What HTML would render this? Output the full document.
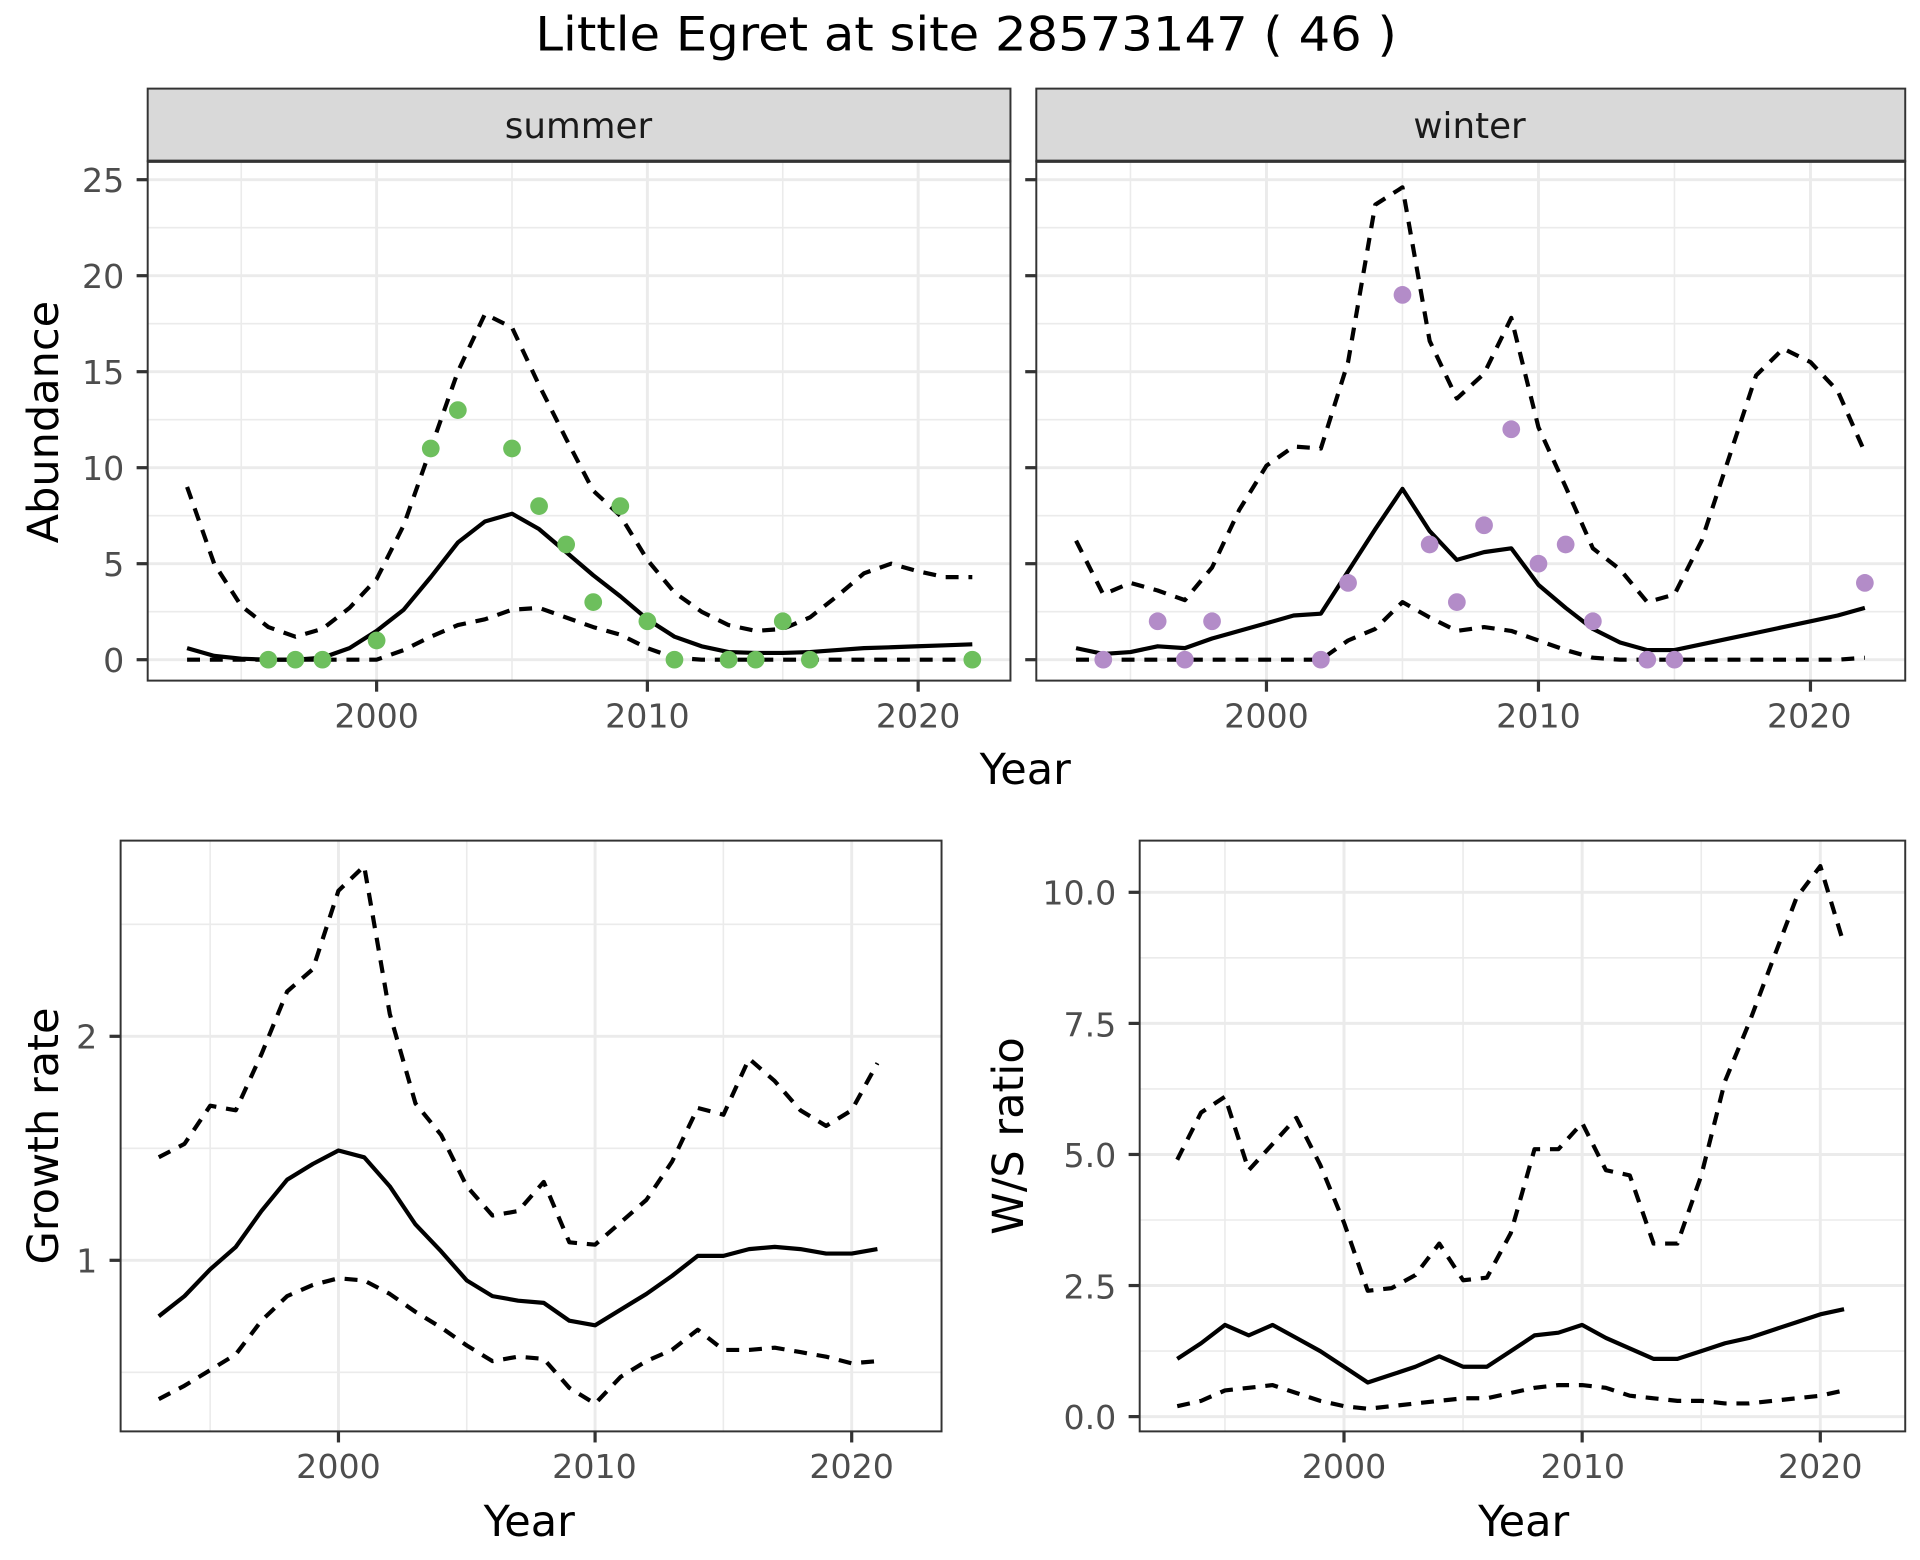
<!DOCTYPE html>
<html><head><meta charset="utf-8"><style>html,body{margin:0;padding:0;background:#fff}svg{display:block}text{font-family:"DejaVu Sans","Liberation Sans",sans-serif}</style></head>
<body>
<svg id="s" width="1920" height="1560" viewBox="0 0 1560 1267.5" xmlns="http://www.w3.org/2000/svg">
<rect width="1560" height="1267.5" fill="#fff"/>
<g id="grid"></g>
<g id="lines"></g>
<g font-size="27" fill="#4d4d4d">
<text x="101" y="546" text-anchor="end">0</text>
<text x="101" y="468" text-anchor="end">5</text>
<text x="101" y="390" text-anchor="end">10</text>
<text x="101" y="312" text-anchor="end">15</text>
<text x="101" y="234" text-anchor="end">20</text>
<text x="101" y="156" text-anchor="end">25</text>
<text x="306" y="591" text-anchor="middle">2000</text>
<text x="526" y="591" text-anchor="middle">2010</text>
<text x="746" y="591" text-anchor="middle">2020</text>
<text x="1029" y="591" text-anchor="middle">2000</text>
<text x="1250" y="591" text-anchor="middle">2010</text>
<text x="1470" y="591" text-anchor="middle">2020</text>
<text x="79" y="1034" text-anchor="end">1</text>
<text x="79" y="852" text-anchor="end">2</text>
<text x="275" y="1201" text-anchor="middle">2000</text>
<text x="483" y="1201" text-anchor="middle">2010</text>
<text x="692" y="1201" text-anchor="middle">2020</text>
<text x="907" y="1161" text-anchor="end">0.0</text>
<text x="907" y="1055" text-anchor="end">2.5</text>
<text x="907" y="948" text-anchor="end">5.0</text>
<text x="907" y="842" text-anchor="end">7.5</text>
<text x="907" y="735" text-anchor="end">10.0</text>
<text x="1092" y="1201" text-anchor="middle">2000</text>
<text x="1286" y="1201" text-anchor="middle">2010</text>
<text x="1479" y="1201" text-anchor="middle">2020</text>
</g>
<g font-size="29" fill="#1a1a1a">
<text x="470" y="112" text-anchor="middle">summer</text>
<text x="1194" y="112" text-anchor="middle">winter</text>
</g>
<g font-size="35" fill="#000">
<text x="785" y="41" text-anchor="middle" font-size="38" textLength="700" lengthAdjust="spacingAndGlyphs">Little Egret at site 28573147 ( 46 )</text>
<text x="833" y="637" text-anchor="middle">Year</text>
<text x="430" y="1248" text-anchor="middle">Year</text>
<text x="1238" y="1248" text-anchor="middle">Year</text>
<text transform="translate(47,343) rotate(-90)" text-anchor="middle">Abundance</text>
<text transform="translate(47,923) rotate(-90)" text-anchor="middle">Growth rate</text>
<text transform="translate(831,923) rotate(-90)" text-anchor="middle">W/S ratio</text>
</g>
</svg>
<script>
const NS="http://www.w3.org/2000/svg";
const G=document.getElementById('grid'),L=document.getElementById('lines');
function el(p,t,a){const e=document.createElementNS(NS,t);for(const k in a)e.setAttribute(k,a[k]);p.appendChild(e);return e;}
function panel(x0,x1,y0,y1,fx,fy,xt,yt){
  el(G,'rect',{x:x0,y:y0,width:x1-x0,height:y1-y0,fill:'#fff'});
  const step=xt[1]-xt[0];
  for(let i=-1;i<=xt.length;i++){const v=xt[0]+step*i;const vm=v+step/2;
    [[v,2.4],[vm,1.3]].forEach(([u,w])=>{const X=fx(u);if(X>x0&&X<x1)el(G,'line',{x1:X,x2:X,y1:y0,y2:y1,stroke:'#ebebeb','stroke-width':w});});}
  const ys=yt[1]-yt[0];
  for(let i=-1;i<=yt.length;i++){const v=yt[0]+ys*i;[[v,2.4],[v+ys/2,1.3]].forEach(([u,w])=>{const Y=fy(u);if(Y>y0&&Y<y1)el(G,'line',{x1:x0,x2:x1,y1:Y,y2:Y,stroke:'#ebebeb','stroke-width':w});});}
  el(G,'rect',{x:x0,y:y0,width:x1-x0,height:y1-y0,fill:'none',stroke:'#333','stroke-width':1.6});
  xt.forEach(v=>{const X=fx(v);el(G,'line',{x1:X,x2:X,y1:y1,y2:y1+9,stroke:'#333','stroke-width':2.6});});
  yt.forEach(v=>{const Y=fy(v);el(G,'line',{x1:x0-9,x2:x0,y1:Y,y2:Y,stroke:'#333','stroke-width':2.6});});
}
function line(fx,fy,y0,vals,dash){let d='';vals.forEach((v,i)=>{d+=(i?'L':'M')+fx(y0+i).toFixed(1)+','+fy(v).toFixed(1);});
  const a={d:d,fill:'none',stroke:'#000','stroke-width':3.4,'stroke-linejoin':'round'};if(dash)a['stroke-dasharray']='10.5,8';el(L,'path',a);}
function pts(fx,fy,arr,c){arr.forEach(([y,v])=>el(L,'circle',{cx:fx(y),cy:fy(v),r:7.2,fill:c}));}
const fyA=v=>536-v*15.6;
const fxS=y=>306+(y-2000)*22, fxW=y=>1029+(y-2000)*22.1;
panel(120,821,131,553,fxS,fyA,[2000,2010,2020],[0,5,10,15,20,25]);
panel(842,1548,131,553,fxW,fyA,[2000,2010,2020],[0,5,10,15,20,25]);
[[120,821],[842,1548]].forEach(([a,b])=>{el(G,'rect',{x:a,y:72,width:b-a,height:59,fill:'#d9d9d9',stroke:'#333','stroke-width':1.6});el(G,'line',{x1:a,x2:b,y1:131,y2:131,stroke:'#333','stroke-width':2.6});});
line(fxS,fyA,1993,[0.6,0.2,0.05,0,0,0.1,0.6,1.5,2.6,4.3,6.1,7.2,7.6,6.8,5.6,4.4,3.3,2.1,1.2,0.7,0.4,0.35,0.35,0.4,0.5,0.6,0.65,0.7,0.75,0.8]);
line(fxS,fyA,1993,[9,5,2.8,1.7,1.2,1.6,2.7,4.2,7,11,15,18,17.3,14.3,11.5,8.8,7.5,5.2,3.5,2.5,1.8,1.5,1.6,2.2,3.3,4.5,5,4.6,4.3,4.3],1);
line(fxS,fyA,1993,[0,0,0,0,0,0,0,0,0.5,1.2,1.8,2.1,2.6,2.7,2.2,1.7,1.3,0.6,0.1,0,0,0,0,0,0,0,0,0,0,0],1);
pts(fxS,fyA,[[1996,0],[1997,0],[1998,0],[2000,1],[2002,11],[2003,13],[2005,11],[2006,8],[2007,6],[2008,3],[2009,8],[2010,2],[2011,0],[2013,0],[2014,0],[2015,2],[2016,0],[2022,0]],'#6dbf5d');
line(fxW,fyA,1993,[0.6,0.3,0.4,0.7,0.6,1.1,1.5,1.9,2.3,2.4,4.6,6.8,8.9,6.7,5.2,5.6,5.8,3.9,2.7,1.6,0.9,0.5,0.5,0.8,1.1,1.4,1.7,2,2.3,2.7]);
line(fxW,fyA,1993,[6.2,3.4,4,3.6,3.1,4.8,7.8,10.1,11.1,11,15.5,23.7,24.6,16.6,13.6,14.9,17.8,12.1,9,5.8,4.7,3,3.4,6.2,10.5,14.8,16.2,15.5,14,10.8],1);
line(fxW,fyA,1993,[0,0,0,0,0,0,0,0,0,0,1,1.6,3,2.2,1.5,1.7,1.5,1,0.5,0.1,0,0,0,0,0,0,0,0,0,0.1],1);
pts(fxW,fyA,[[1994,0],[1996,2],[1997,0],[1998,2],[2002,0],[2003,4],[2005,19],[2006,6],[2007,3],[2008,7],[2009,12],[2010,5],[2011,6],[2012,2],[2014,0],[2015,0],[2022,4]],'#b38cc8');
const fxG=y=>275+(y-2000)*20.85, fyG=v=>1024-(v-1)*182;
panel(98,765,683,1163,fxG,fyG,[2000,2010,2020],[1,2]);
line(fxG,fyG,1993,[0.75,0.84,0.96,1.06,1.22,1.36,1.43,1.49,1.46,1.33,1.16,1.04,0.91,0.84,0.82,0.81,0.73,0.71,0.78,0.85,0.93,1.02,1.02,1.05,1.06,1.05,1.03,1.03,1.05]);
line(fxG,fyG,1993,[1.46,1.52,1.69,1.67,1.92,2.2,2.3,2.65,2.76,2.1,1.7,1.56,1.33,1.2,1.22,1.35,1.08,1.07,1.17,1.27,1.44,1.68,1.65,1.9,1.8,1.67,1.6,1.67,1.88],1);
line(fxG,fyG,1993,[0.38,0.44,0.51,0.58,0.73,0.84,0.89,0.92,0.91,0.85,0.77,0.7,0.62,0.55,0.57,0.56,0.43,0.36,0.48,0.55,0.6,0.69,0.6,0.6,0.61,0.59,0.57,0.54,0.55],1);
const fxR=y=>1092+(y-2000)*19.35, fyR=v=>1151-v*42.6;
panel(926,1548,683,1163,fxR,fyR,[2000,2010,2020],[0,2.5,5,7.5,10]);
line(fxR,fyR,1993,[1.1,1.4,1.75,1.55,1.75,1.5,1.25,0.95,0.65,0.8,0.95,1.15,0.95,0.95,1.25,1.55,1.6,1.75,1.5,1.3,1.1,1.1,1.25,1.4,1.5,1.65,1.8,1.95,2.05]);
line(fxR,fyR,1993,[4.9,5.8,6.1,4.7,5.2,5.7,4.8,3.7,2.4,2.45,2.7,3.3,2.6,2.65,3.5,5.1,5.1,5.6,4.7,4.6,3.3,3.3,4.6,6.4,7.5,8.7,9.9,10.5,9],1);
line(fxR,fyR,1993,[0.2,0.3,0.5,0.55,0.6,0.45,0.3,0.2,0.15,0.2,0.25,0.3,0.35,0.35,0.45,0.55,0.6,0.6,0.55,0.4,0.35,0.3,0.3,0.25,0.25,0.3,0.35,0.4,0.5],1);
</script>
</body></html>
